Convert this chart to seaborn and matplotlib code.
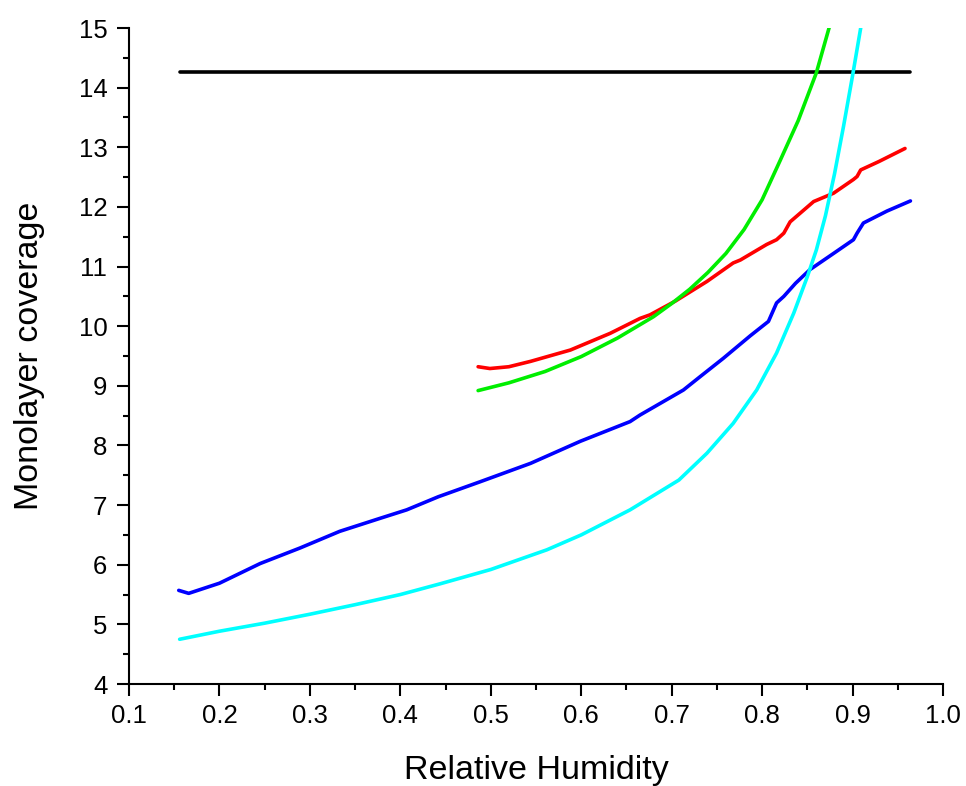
import matplotlib
matplotlib.use("Agg")
import matplotlib.pyplot as plt
import seaborn as sns
import pandas as pd
from matplotlib.ticker import MultipleLocator

# ---- data ----
black_x = [0.156, 0.964]
black_y = [14.26, 14.26]

blue_x = [0.155, 0.166, 0.2, 0.245, 0.289, 0.333, 0.378, 0.407, 0.442, 0.488, 0.544,
          0.599, 0.654, 0.665, 0.713, 0.732, 0.757, 0.787, 0.807, 0.816, 0.824, 0.837,
          0.853, 0.879, 0.901, 0.905, 0.912, 0.938, 0.964]
blue_y = [5.57, 5.52, 5.69, 6.02, 6.28, 6.56, 6.78, 6.92, 7.14, 7.39, 7.70,
          8.07, 8.40, 8.51, 8.93, 9.16, 9.46, 9.84, 10.08, 10.39, 10.50, 10.72,
          10.95, 11.22, 11.45, 11.56, 11.73, 11.93, 12.10]

red_x = [0.486, 0.499, 0.52, 0.544, 0.588, 0.632, 0.665, 0.676, 0.704, 0.739, 0.768,
         0.776, 0.805, 0.816, 0.824, 0.831, 0.857, 0.879, 0.901, 0.905, 0.909, 0.929,
         0.958]
red_y = [9.32, 9.29, 9.32, 9.41, 9.60, 9.88, 10.13, 10.19, 10.42, 10.75, 11.06,
         11.11, 11.37, 11.45, 11.56, 11.75, 12.09, 12.23, 12.46, 12.51, 12.62, 12.76,
         12.98]

green_x = [0.486, 0.52, 0.56, 0.60, 0.64, 0.68, 0.70, 0.72, 0.74, 0.76, 0.78, 0.80,
           0.82, 0.84, 0.86, 0.874, 0.877]
green_y = [8.92, 9.05, 9.24, 9.49, 9.80, 10.16, 10.38, 10.62, 10.90, 11.22, 11.62, 12.12,
           12.78, 13.45, 14.25, 15.0, 15.2]

cyan_x = [0.156, 0.2, 0.25, 0.3, 0.35, 0.4, 0.444, 0.5, 0.562, 0.6, 0.654, 0.708, 0.739,
          0.768, 0.794, 0.816, 0.835, 0.850, 0.860, 0.870, 0.880, 0.890, 0.900, 0.909,
          0.912]
cyan_y = [4.75, 4.885, 5.02, 5.17, 5.33, 5.50, 5.68, 5.92, 6.25, 6.50, 6.92, 7.42, 7.87,
          8.37, 8.93, 9.55, 10.22, 10.83, 11.28, 11.85, 12.55, 13.35, 14.20, 15.0,
          15.3]

x_ticks = [0.1, 0.2, 0.3, 0.4, 0.5, 0.6, 0.7, 0.8, 0.9, 1.0]
x_tick_labels = ["0.1", "0.2", "0.3", "0.4", "0.5", "0.6", "0.7", "0.8", "0.9", "1.0"]
y_ticks = [4, 5, 6, 7, 8, 9, 10, 11, 12, 13, 14, 15]

series = [
    (black_x, black_y, "#000000"),
    (blue_x, blue_y, "#0000ff"),
    (red_x, red_y, "#ff0000"),
    (green_x, green_y, "#00ee00"),
    (cyan_x, cyan_y, "#00ffff"),
]

sns.set_theme(style="ticks")
plt.rcParams["font.family"] = ["Liberation Sans", "DejaVu Sans"]

fig = plt.figure(figsize=(9.66, 7.86), dpi=100)
ax = fig.add_axes([129 / 966, 1 - 684 / 786, (943 - 129) / 966, (684 - 28) / 786])

for xs, ys, col in series:
    df = pd.DataFrame({"x": xs, "y": ys})
    sns.lineplot(data=df, x="x", y="y", color=col, linewidth=2.6, ax=ax,
                 estimator=None, sort=False)

ax.set_xlim(0.1, 1.0)
ax.set_ylim(4, 15)
ax.set_xticks(x_ticks)
ax.set_xticklabels(x_tick_labels)
ax.set_yticks(y_ticks)
ax.xaxis.set_minor_locator(MultipleLocator(0.05))
ax.yaxis.set_minor_locator(MultipleLocator(0.5))

sns.despine(ax=ax)
for s in ["left", "bottom"]:
    ax.spines[s].set_linewidth(1.5)
    ax.spines[s].set_color("black")

ax.tick_params(which="major", length=8.6, width=1.5, direction="out", colors="black",
               labelsize=18.5, pad=6)
ax.tick_params(which="minor", length=4.3, width=1.5, direction="out", colors="black")
ax.tick_params(axis="y", which="major", pad=7)

ax.set_xlabel("Relative Humidity", fontsize=24.5, labelpad=19, color="black")
ax.set_ylabel("Monolayer coverage", fontsize=24.5, labelpad=24, color="black")
ax.grid(False)

fig.savefig("out.png", dpi=100)
